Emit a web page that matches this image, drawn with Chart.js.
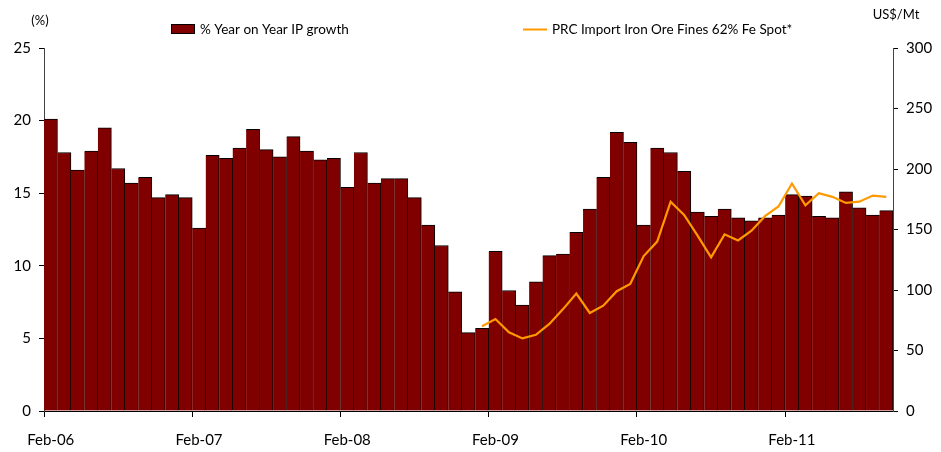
<!DOCTYPE html>
<html>
<head>
<meta charset="utf-8">
<script src="https://cdn.jsdelivr.net/npm/chart.js@4/dist/chart.umd.min.js"></script>
<style>
  html, body { margin: 0; padding: 0; background: #fff; }
  #wrap { width: 941px; height: 452px; position: relative; }
</style>
</head>
<body>
<div id="wrap"><canvas id="grafica"></canvas></div>
<script>
// months Feb..Dec each year (Jan combined with Feb)
const meses = ['Feb-06','Mar-06','Apr-06','May-06','Jun-06','Jul-06','Aug-06','Sep-06','Oct-06','Nov-06','Dec-06',
               'Feb-07','Mar-07','Apr-07','May-07','Jun-07','Jul-07','Aug-07','Sep-07','Oct-07','Nov-07','Dec-07',
               'Feb-08','Mar-08','Apr-08','May-08','Jun-08','Jul-08','Aug-08','Sep-08','Oct-08','Nov-08','Dec-08',
               'Feb-09','Mar-09','Apr-09','May-09','Jun-09','Jul-09','Aug-09','Sep-09','Oct-09','Nov-09','Dec-09',
               'Feb-10','Mar-10','Apr-10','May-10','Jun-10','Jul-10','Aug-10','Sep-10','Oct-10','Nov-10','Dec-10',
               'Feb-11','Mar-11','Apr-11','May-11','Jun-11','Jul-11','Aug-11','Sep-11'];

const ipGrowth = [20.1, 17.8, 16.6, 17.9, 19.5, 16.7, 15.7, 16.1, 14.7, 14.9, 14.7,
                  12.6, 17.6, 17.4, 18.1, 19.4, 18.0, 17.5, 18.9, 17.9, 17.3, 17.4,
                  15.4, 17.8, 15.7, 16.0, 16.0, 14.7, 12.8, 11.4, 8.2, 5.4, 5.7,
                  11.0, 8.3, 7.3, 8.9, 10.7, 10.8, 12.3, 13.9, 16.1, 19.2, 18.5,
                  12.8, 18.1, 17.8, 16.5, 13.7, 13.4, 13.9, 13.3, 13.1, 13.3, 13.5,
                  14.9, 14.8, 13.4, 13.3, 15.1, 14.0, 13.5, 13.8];

const ironOre = [null, null, null, null, null, null, null, null, null, null, null,
                 null, null, null, null, null, null, null, null, null, null, null,
                 null, null, null, null, null, null, null, null, null, null, 70,
                 76, 65, 60, 63, 72, 84, 97, 81, 87, 99, 105,
                 128, 140, 173, 162, 145, 127, 146, 141, 149, 161, 169,
                 188, 170, 180, 177, 172, 173, 178, 177];

const ticksIzq = [0, 5, 10, 15, 20, 25];
const ticksDer = [0, 50, 100, 150, 200, 250, 300];

const fuente = 'Lato, "Open Sans", sans-serif';
const colorBarra = '#800000';
const colorLinea = '#FF9900';

// legend + unit labels drawn by hand
const extras = {
    id: 'extras',
    afterDraw(chart) {
        const ctx = chart.ctx;
        ctx.save();
        ctx.fillStyle = '#000';
        ctx.textBaseline = 'middle';
        ctx.font = '13.5px ' + fuente;

        // legend item 1
        ctx.fillStyle = colorBarra;
        ctx.fillRect(171, 24, 23, 9);
        ctx.strokeStyle = '#000';
        ctx.lineWidth = 1;
        ctx.strokeRect(171.5, 24.5, 23, 9);
        ctx.fillStyle = '#000';
        ctx.textAlign = 'left';
        ctx.fillText(chart.data.datasets[1].label, 200, 29.5);

        // legend item 2
        ctx.strokeStyle = colorLinea;
        ctx.lineWidth = 2;
        ctx.beginPath();
        ctx.moveTo(523, 29.5);
        ctx.lineTo(547, 29.5);
        ctx.stroke();
        ctx.fillText(chart.data.datasets[0].label, 552, 29.5);

        // units
        ctx.font = '13px ' + fuente;
        ctx.textAlign = 'center';
        ctx.fillText('(%)', 40, 21);
        ctx.fillText('US$/Mt', 896, 15);
        ctx.restore();
    }
};

const databa = {
    labels: meses,
    datasets: [
        {
            type: 'line',
            label: 'PRC Import Iron Ore Fines 62% Fe Spot*',
            data: ironOre,
            yAxisID: 'yDer',
            borderColor: colorLinea,
            borderWidth: 2.2,
            pointRadius: 0,
            tension: 0,
            spanGaps: false,
            order: 0
        },
        {
            type: 'bar',
            label: '% Year on Year IP growth',
            data: ipGrowth,
            yAxisID: 'yIzq',
            backgroundColor: colorBarra,
            borderColor: '#000',
            borderWidth: {top: 1, right: 1, left: 0, bottom: 0},
            barPercentage: 1,
            categoryPercentage: 1,
            order: 1
        }
    ]
};

const cfg = {
    data: databa,
    plugins: [extras],
    options: {
        responsive: false,
        animation: false,
        events: [],
        layout: {padding: {top: 48, left: 0, right: 0, bottom: 0}},
        plugins: {
            legend: {display: false},
            tooltip: {enabled: false}
        },
        scales: {
            x: {
                type: 'category',
                offset: true,
                grid: {
                    offset: true,
                    drawOnChartArea: false,
                    tickLength: 6,
                    color: c => (c.index % 11 === 0 ? '#000' : 'rgba(0,0,0,0)')
                },
                border: {display: true, color: '#000', width: 1},
                ticks: {
                    autoSkip: false,
                    maxRotation: 0,
                    minRotation: 0,
                    padding: 14,
                    color: '#000',
                    font: {family: fuente, size: 15},
                    callback: function (v, i) {
                        const l = meses[i];
                        return l.startsWith('Feb') ? l : '';
                    }
                },
                afterFit: s => { s.height = 41; }
            },
            yIzq: {
                type: 'linear',
                position: 'left',
                min: 0,
                max: 25,
                afterBuildTicks: s => { s.ticks = ticksIzq.map(v => ({value: v})); },
                grid: {drawOnChartArea: false, tickLength: 5, color: '#000'},
                border: {display: true, color: '#444', width: 1},
                ticks: {
                    padding: 8,
                    color: '#000',
                    font: {family: fuente, size: 15}
                },
                afterFit: s => { s.width = 44; }
            },
            yDer: {
                type: 'linear',
                position: 'right',
                min: 0,
                max: 300,
                afterBuildTicks: s => { s.ticks = ticksDer.map(v => ({value: v})); },
                grid: {drawOnChartArea: false, tickLength: 5, color: '#000'},
                border: {display: true, color: '#444', width: 1},
                ticks: {
                    padding: 8,
                    color: '#000',
                    font: {family: fuente, size: 15}
                },
                afterFit: s => { s.width = 48; }
            }
        }
    }
};

const canvas = document.getElementById('grafica');
canvas.width = 941;
canvas.height = 452;
canvas.style.width = '941px';
canvas.style.height = '452px';
let myChart = new Chart(canvas, cfg);
</script>
</body>
</html>
